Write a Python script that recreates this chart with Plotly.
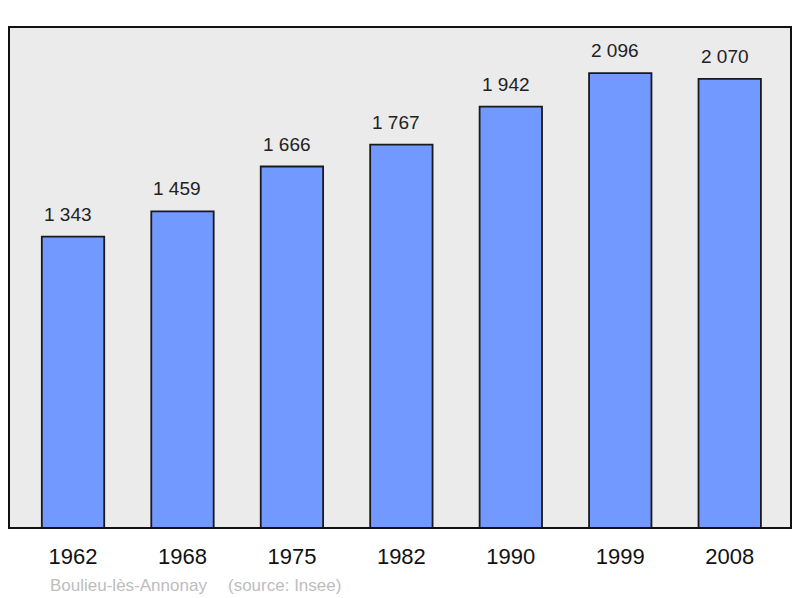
import plotly.graph_objects as go

years = ["1962", "1968", "1975", "1982", "1990", "1999", "2008"]
population = [1343, 1459, 1666, 1767, 1942, 2096, 2070]
commune = "Boulieu-lès-Annonay"
source = "(source: Insee)"

FONT = "Liberation Sans, Arial, sans-serif"
idx = list(range(len(years)))

fig = go.Figure()
fig.add_trace(go.Bar(
    x=idx, y=population, width=0.57,
    marker=dict(color="#7299ff", line=dict(color="#1a1a1a", width=1.8)),
    hoverinfo="skip",
))

for i, v in zip(idx, population):
    fig.add_annotation(x=i, y=v, text=f"{v:,}".replace(",", " "),
                       showarrow=False, yanchor="bottom", yshift=10, xshift=-5,
                       font=dict(family=FONT, size=19, color="#222222"))

fig.add_annotation(xref="paper", yref="paper", x=(48 - 9) / 782, y=-(585 - 528) / 501,
                   xanchor="left", yanchor="middle", text=commune, showarrow=False,
                   font=dict(family=FONT, size=17, color="#bdbdbd"))
fig.add_annotation(xref="paper", yref="paper", x=(226 - 9) / 782, y=-(585 - 528) / 501,
                   xanchor="left", yanchor="middle", text=source, showarrow=False,
                   font=dict(family=FONT, size=17, color="#bdbdbd"))

fig.add_shape(type="rect", xref="paper", yref="paper", x0=0, y0=0, x1=1, y1=1,
              line=dict(color="#111111", width=2), layer="above")

fig.update_layout(
    width=800, height=598,
    margin=dict(l=9, r=9, t=27, b=70),
    paper_bgcolor="white", plot_bgcolor="#ebebeb",
    showlegend=False,
    font=dict(family=FONT),
)
fig.update_xaxes(type="linear", range=[-0.585, 6.56], showgrid=False, zeroline=False,
                 tickmode="array", tickvals=idx, ticktext=years,
                 tickfont=dict(size=22, color="#111111"), ticks="", ticklabelstandoff=13)
fig.update_yaxes(range=[0, 2309], showgrid=False, zeroline=False, showticklabels=False)

fig.write_html("out.html", config={"displayModeBar": False},
               post_script="document.body.style.margin='0';")
